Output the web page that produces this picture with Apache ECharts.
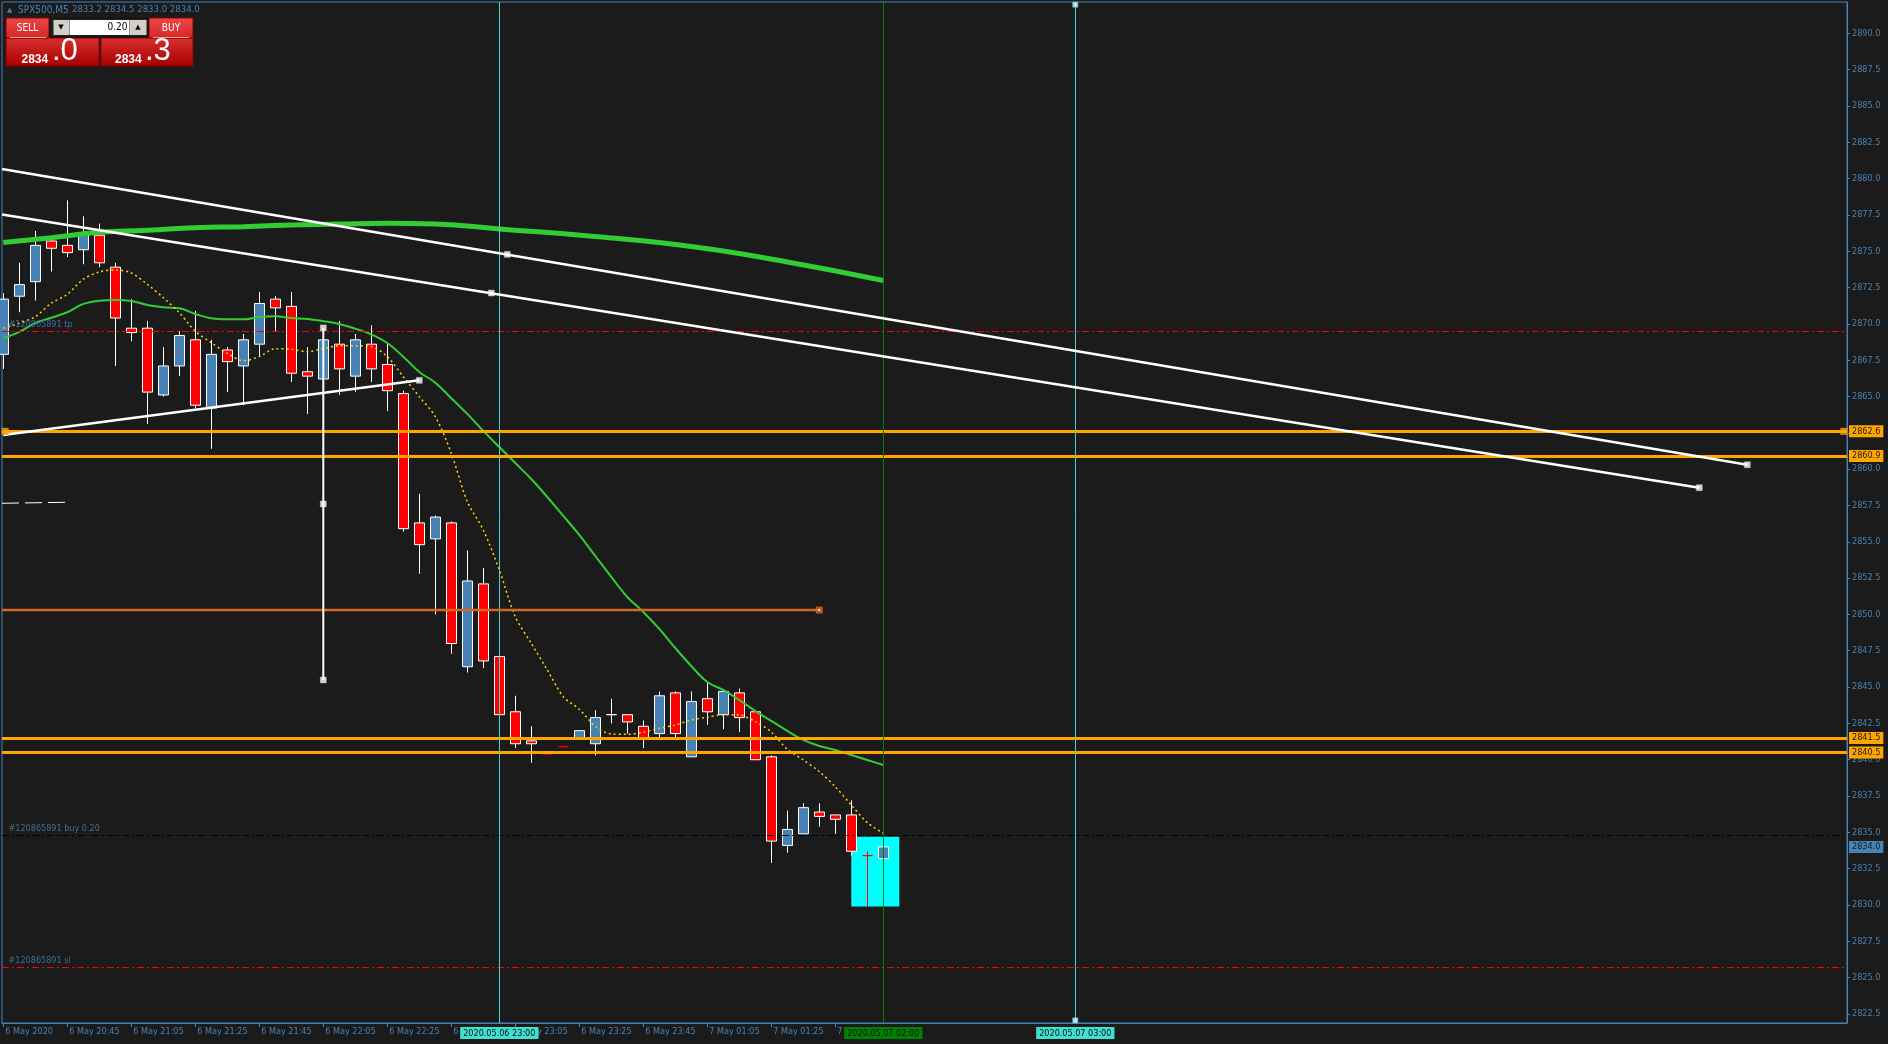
<!DOCTYPE html>
<html><head><meta charset="utf-8">
<script src="https://cdn.jsdelivr.net/npm/echarts@6/dist/echarts.min.js"></script>
<style>html,body{margin:0;padding:0;background:#1b1b1b;overflow:hidden}#c{width:1888px;height:1044px}</style>
</head><body><div id="c"></div>
<script>
// ---------- data ----------
const xTickIndex = [0,4,8,12,16,20,24,28,32,36,40,44,48,52];
const xTickLabels = ['6 May 2020','6 May 20:45','6 May 21:05','6 May 21:25','6 May 21:45','6 May 22:05','6 May 22:25','6 May 22:45','6 May 23:05','6 May 23:25','6 May 23:45','7 May 01:05','7 May 01:25','7 May 01:45'];
const yTickValues = [2822.5,2825.0,2827.5,2830.0,2832.5,2835.0,2837.5,2840.0,2842.5,2845.0,2847.5,2850.0,2852.5,2855.0,2857.5,2860.0,2862.5,2865.0,2867.5,2870.0,2872.5,2875.0,2877.5,2880.0,2882.5,2885.0,2887.5,2890.0];

const opens  = [2867.9,2871.9,2872.9,2875.7,2875.4,2875.1,2876.1,2873.9,2869.7,2869.7,2865.1,2867.1,2868.9,2864.2,2868.2,2867.1,2868.6,2871.7,2871.2,2866.7,2866.2,2868.6,2866.4,2868.6,2867.2,2865.2,2856.3,2855.2,2856.3,2846.4,2852.1,2847.1,2843.3,2841.3,2840.4,2840.9,2841.4,2841.1,2843.1,2843.1,2842.3,2841.8,2844.6,2840.2,2844.2,2843.1,2844.6,2843.3,2840.2,2834.1,2834.9,2836.4,2836.2,2836.2,2833.4,2833.2];
const closes = [2871.7,2872.7,2875.4,2875.2,2874.9,2876.2,2874.2,2870.4,2869.4,2865.3,2867.1,2869.2,2864.4,2867.9,2867.4,2868.9,2871.4,2871.1,2866.6,2866.4,2868.9,2866.9,2868.9,2866.9,2865.4,2855.9,2854.8,2856.7,2848.0,2852.3,2846.8,2843.1,2841.1,2841.1,2840.4,2840.9,2842.0,2842.9,2843.1,2842.6,2841.5,2844.4,2841.8,2844.0,2843.3,2844.7,2842.9,2840.0,2834.4,2835.2,2836.7,2836.1,2835.9,2833.7,2833.4,2834.0];
const lows   = [2866.9,2870.8,2871.6,2873.6,2874.6,2874.1,2873.9,2867.1,2868.8,2863.1,2865.0,2866.4,2864.2,2861.4,2865.3,2864.4,2867.8,2869.5,2866.0,2863.8,2865.5,2865.1,2865.3,2866.0,2864.0,2855.7,2852.8,2850.0,2847.3,2846.0,2846.3,2842.0,2840.8,2839.8,2840.4,2840.9,2841.4,2840.3,2842.5,2841.8,2840.8,2841.5,2841.5,2840.2,2842.4,2842.1,2841.9,2840.0,2832.9,2833.6,2834.9,2835.4,2834.9,2833.4,2829.9,2833.0];
const highs  = [2872.1,2874.2,2876.4,2875.9,2878.5,2877.4,2876.9,2874.2,2871.7,2870.2,2868.4,2869.5,2870.9,2868.9,2868.4,2869.3,2872.2,2871.9,2872.2,2868.4,2869.7,2870.2,2869.3,2869.9,2868.7,2865.4,2858.3,2856.8,2856.4,2854.4,2853.2,2848.4,2844.4,2842.3,2840.4,2840.9,2842.0,2843.4,2844.2,2843.1,2842.7,2844.7,2844.7,2844.7,2845.3,2844.7,2844.9,2843.4,2840.3,2836.5,2837.0,2837.0,2836.2,2837.2,2833.7,2834.5];
const redFlatCandles = [34,35,54];

const maFast = [2869.69,2870.04,2870.49,2871.42,2872.03,2873.07,2873.57,2873.71,2873.50,2872.72,2871.80,2870.77,2869.49,2868.70,2867.97,2867.46,2867.74,2868.29,2868.25,2868.08,2868.29,2868.50,2868.50,2868.43,2867.74,2866.36,2864.99,2863.61,2861.09,2857.76,2855.81,2853.06,2849.84,2848.01,2846.18,2844.34,2843.47,2842.30,2841.77,2841.75,2841.89,2842.16,2842.39,2842.73,2842.92,2843.10,2843.08,2842.62,2841.91,2840.72,2839.98,2839.18,2838.14,2836.88,2835.67,2834.94];
const maMid = [2869.01,2869.44,2870.06,2870.42,2870.80,2871.37,2871.59,2871.64,2871.57,2871.30,2871.14,2871.07,2870.68,2870.38,2870.31,2870.31,2870.47,2870.52,2870.40,2870.33,2870.18,2869.99,2869.67,2869.28,2868.68,2867.74,2866.69,2865.95,2864.88,2863.80,2862.63,2861.52,2860.42,2859.32,2858.08,2856.78,2855.47,2854.02,2852.58,2851.20,2850.17,2849.00,2847.69,2846.45,2845.35,2844.80,2844.11,2843.35,2842.67,2841.98,2841.36,2840.94,2840.67,2840.33,2839.98,2839.64];
const maSlowIndex  = [0,3,6,9,12,15,18,21,24,27,31,37,43,49,55];
const maSlowValues = [2875.59,2875.93,2876.30,2876.44,2876.62,2876.69,2876.80,2876.87,2876.92,2876.87,2876.53,2876.01,2875.32,2874.26,2872.98];

const orangeLevels = [2862.6,2860.9,2841.5,2840.5];
const orderPrices = [2869.5,2834.8,2825.7];
const orderLabels = ['#120865891 tp','#120865891 buy 0.20','#120865891 sl'];
const orderColors = ['#FF0000','#000000','#FF0000'];
const lastPrice = 2834.0;
const chocolateLevel = 2850.3, chocolateEnd = 51;
const vLineIndex = [31,55,67];
const vLineLabels = ['2020.05.06 23:00','2020.05.07 02:00','2020.05.07 03:00'];

const XMIN = -0.08125, XMAX = 115.23125;
const YMIN = 2821.88, YMAX = 2892.15;

const trendA = [[XMIN,2880.66],[109,2860.30]];
const trendB = [[XMIN,2877.52],[106,2858.72]];
const trendC = [[0,2862.35],[26,2866.11]];
const vObject = [[20,2869.72],[20,2845.49]];
const shortDash = [[XMIN,2857.65],[4,2857.72]];
const objectMarkers = [[31.5,2874.78],[109,2860.30],[30.5,2872.12],[106,2858.72],[26,2866.11],[20,2869.72],[20,2857.6],[20,2845.49]];
const rectBox = [[53,2834.7],[56,2829.9]];

// ---------- build ----------
const F = '"DejaVu Sans Condensed","DejaVu Sans",sans-serif';
const AX = '#4682B4';
const candleData = opens.map((o,i)=>{
  const item = {value:[i,o,closes[i],lows[i],highs[i]]};
  if (redFlatCandles.includes(i)) item.itemStyle = {color:'#FF0000',color0:'#FF0000',borderColor:'#FF0000',borderColor0:'#FF0000'};
  return item;
});
function grad(a,b){return {type:'linear',x:0,y:0,x2:0,y2:1,colorStops:[{offset:0,color:a},{offset:1,color:b}]};}

const markLines = [];
orangeLevels.forEach(v=>markLines.push({yAxis:v,lineStyle:{color:'#FFA500',width:3,type:'solid'},
  label:{show:true,position:'end',formatter:v.toFixed(1),backgroundColor:'#FFA500',color:'#1b1b1b',padding:[2,3,1,3],distance:2,fontSize:9,fontFamily:F}}));
orderPrices.forEach((v,k)=>markLines.push({yAxis:v,lineStyle:{color:orderColors[k],width:1,type:[7,3,2,3]},label:{show:false}}));
markLines.push({yAxis:lastPrice,lineStyle:{color:'rgba(0,0,0,0)',width:0},
  label:{show:true,position:'end',formatter:lastPrice.toFixed(1),backgroundColor:'#4682B4',color:'#1b1b1b',padding:[2,3,1,3],distance:2,fontSize:9,fontFamily:F}});
vLineIndex.forEach((x,k)=>{
  const green = k===1;
  markLines.push({xAxis:x,lineStyle:{color:green?'#008000':'#48D1CC',width:1,type:'solid'},
    label:{show:true,position:'start',formatter:vLineLabels[k],backgroundColor:green?'#008000':'#40E0D0',color:'#111',padding:[2,3,1,3],distance:4,fontSize:9,fontFamily:F}});
});

const option = {
  backgroundColor:'#1b1b1b',
  animation:false,
  grid:{left:2,top:2,right:41,bottom:21,show:true,borderColor:AX,borderWidth:1,backgroundColor:'#1b1b1b'},
  xAxis:{type:'value',min:XMIN,max:XMAX,
    axisLine:{show:true,onZero:false,lineStyle:{color:AX}},splitLine:{show:false},
    axisTick:{show:true,customValues:xTickIndex,length:4,lineStyle:{color:AX}},
    axisLabel:{customValues:xTickIndex,formatter:v=>xTickLabels[xTickIndex.indexOf(Math.round(v))]||'',
      align:'left',padding:[0,0,0,2],margin:4,color:AX,fontSize:9,fontFamily:F}},
  yAxis:{type:'value',position:'right',min:YMIN,max:YMAX,
    axisLine:{show:true,onZero:false,lineStyle:{color:AX}},splitLine:{show:false},
    axisTick:{show:true,customValues:yTickValues,length:3,lineStyle:{color:AX}},
    axisLabel:{customValues:yTickValues,formatter:v=>v.toFixed(1),margin:5,color:AX,fontSize:9,fontFamily:F}},
  series:[
    {type:'line',name:'rect',data:[],z:1,
      markArea:{silent:true,itemStyle:{color:'#00FFFF',opacity:1},data:[[{coord:rectBox[0]},{coord:rectBox[1]}]]}},
    {type:'candlestick',name:'SPX500',z:3,barWidth:10,clip:true,
      dimensions:['idx','open','close','lowest','highest'],
      encode:{x:'idx',y:['open','close','lowest','highest']},
      data:candleData,
      itemStyle:{color:'#4682B4',color0:'#FF0000',borderColor:'#FFFFFF',borderColor0:'#FFFFFF',borderWidth:1}},
    {type:'line',name:'maSlow',z:4,smooth:true,symbol:'none',
      data:maSlowIndex.map((x,k)=>[x,maSlowValues[k]]),lineStyle:{color:'#32CD32',width:5}},
    {type:'line',name:'maMid',z:4,smooth:0.4,symbol:'none',
      data:maMid.map((v,i)=>[i,v]),lineStyle:{color:'#32CD32',width:2}},
    {type:'line',name:'maFast',z:4,smooth:0.3,symbol:'none',
      data:maFast.map((v,i)=>[i,v]),lineStyle:{color:'#FFD700',width:1.5,type:[2,3]}},
    {type:'line',name:'levels',data:[],z:5,
      markLine:{silent:true,symbol:['none','none'],animation:false,data:markLines}},
    {type:'line',name:'chocolate',z:5,symbol:'none',
      data:[[XMIN,chocolateLevel],[chocolateEnd,chocolateLevel]],lineStyle:{color:'#D2691E',width:2.5}},
    {type:'line',name:'trendA',z:6,symbol:'none',data:trendA,lineStyle:{color:'#FFFFFF',width:2.5}},
    {type:'line',name:'trendB',z:6,symbol:'none',data:trendB,lineStyle:{color:'#FFFFFF',width:2.5}},
    {type:'line',name:'trendC',z:6,symbol:'none',data:trendC,lineStyle:{color:'#FFFFFF',width:2.5}},
    {type:'line',name:'vObject',z:6,symbol:'none',data:vObject,lineStyle:{color:'#FFFFFF',width:2}},
    {type:'line',name:'shortDash',z:6,symbol:'none',data:shortDash,lineStyle:{color:'#FFFFFF',width:1,type:[17,6]}},
    {type:'scatter',name:'markers',z:7,symbol:'rect',symbolSize:6,data:objectMarkers,
      itemStyle:{color:'#FFFFFF',borderColor:'#cfcfcf',borderWidth:0.5}},
    {type:'scatter',name:'chocoMarker',z:7,symbol:'rect',symbolSize:7,data:[[chocolateEnd,chocolateLevel]],
      itemStyle:{color:'#D2691E'}},
    {type:'scatter',name:'chocoDot',z:8,symbol:'rect',symbolSize:2,data:[[chocolateEnd,chocolateLevel]],
      itemStyle:{color:'#FFFFFF'}},
    {type:'scatter',name:'orangeMarkers',z:7,symbol:'rect',symbolSize:7,data:[[XMIN+0.2,orangeLevels[0]],[XMAX-0.2,orangeLevels[0]]],
      itemStyle:{color:'#FFA500'}},
    {type:'scatter',name:'vMarkers',z:7,symbol:'rect',symbolSize:5,data:[[vLineIndex[2],YMAX-0.18],[vLineIndex[2],YMIN+0.18]],
      itemStyle:{color:'#FFFFFF',borderColor:'#48D1CC',borderWidth:1}},
    {type:'scatter',name:'orderText',z:8,symbolSize:1,clip:false,
      data:orderPrices.map(v=>[XMIN,v]),itemStyle:{color:'rgba(0,0,0,0)'},
      label:{show:true,position:[7,-6],align:'left',verticalAlign:'middle',
        formatter:p=>orderLabels[p.dataIndex],color:AX,fontSize:9,fontFamily:F}}
  ],
  graphic:[
    {type:'group',z:100,children:[
      {type:'text',x:7,y:10,style:{text:'▲',fill:AX,font:'7px "DejaVu Sans"',verticalAlign:'middle'}},
      {type:'text',x:18,y:10,style:{text:'SPX500,M5',fill:AX,font:'10px '+F,verticalAlign:'middle'}},
      {type:'text',x:72,y:10,style:{text:'2833.2 2834.5 2833.0 2834.0',fill:AX,font:'9.5px '+F,verticalAlign:'middle'}},
      {type:'rect',shape:{x:6,y:38,width:93,height:28},style:{fill:grad('#d93030','#a60000'),stroke:'#8b0000',lineWidth:1}},
      {type:'rect',shape:{x:101,y:38,width:92,height:28},style:{fill:grad('#d93030','#a60000'),stroke:'#8b0000',lineWidth:1}},
      {type:'rect',shape:{x:6,y:18,width:43,height:20},style:{fill:grad('#ee4646','#d42828'),stroke:'#8b0000',lineWidth:1}},
      {type:'rect',shape:{x:149,y:18,width:44,height:20},style:{fill:grad('#ee4646','#d42828'),stroke:'#8b0000',lineWidth:1}},
      {type:'line',shape:{x1:10,y1:37.5,x2:46,y2:37.5},style:{stroke:'#f2a0a0',lineWidth:1}},
      {type:'line',shape:{x1:153,y1:37.5,x2:189,y2:37.5},style:{stroke:'#f2a0a0',lineWidth:1}},
      {type:'text',x:27.5,y:28,style:{text:'SELL',fill:'#fff',font:'10px '+F,align:'center',verticalAlign:'middle'}},
      {type:'text',x:171,y:28,style:{text:'BUY',fill:'#fff',font:'10px '+F,align:'center',verticalAlign:'middle'}},
      {type:'rect',shape:{x:50,y:18,width:98,height:19},style:{fill:'#202020',stroke:'#101010',lineWidth:1}},
      {type:'rect',shape:{x:53.5,y:20,width:15.5,height:15},style:{fill:'#D4D0C8'}},
      {type:'rect',shape:{x:69.5,y:20,width:60,height:15},style:{fill:'#FFFFFF'}},
      {type:'rect',shape:{x:130,y:20,width:16.5,height:15},style:{fill:'#D4D0C8'}},
      {type:'text',x:61,y:27.5,style:{text:'▼',fill:'#000',font:'7px "DejaVu Sans"',align:'center',verticalAlign:'middle'}},
      {type:'text',x:138,y:27.5,style:{text:'▲',fill:'#000',font:'7px "DejaVu Sans"',align:'center',verticalAlign:'middle'}},
      {type:'text',x:127.5,y:27.5,style:{text:'0.20',fill:'#000',font:'10px '+F,align:'right',verticalAlign:'middle'}},
      {type:'text',x:21.5,y:60,style:{text:'2834',fill:'#fff',font:'bold 12px "Liberation Sans"',verticalAlign:'middle'}},
      {type:'text',x:52,y:51,style:{text:'.0',fill:'#fff',font:'31px "Liberation Sans"',verticalAlign:'middle'}},
      {type:'text',x:115,y:60,style:{text:'2834',fill:'#fff',font:'bold 12px "Liberation Sans"',verticalAlign:'middle'}},
      {type:'text',x:145,y:51,style:{text:'.3',fill:'#fff',font:'31px "Liberation Sans"',verticalAlign:'middle'}}
    ]}
  ]
};
const chart = echarts.init(document.getElementById('c'),null,{renderer:'canvas'});
chart.setOption(option);
</script></body></html>
